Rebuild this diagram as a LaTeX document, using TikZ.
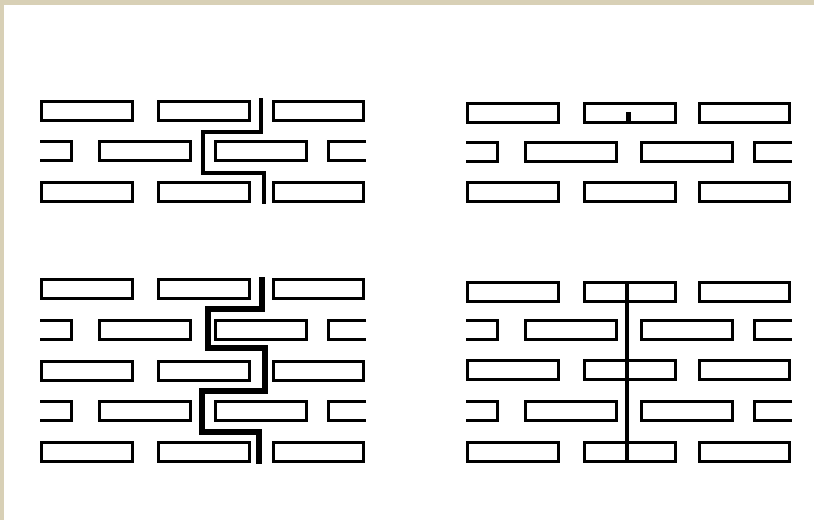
\documentclass[tikz,border=0pt]{standalone}
\usepackage{tikz}
\definecolor{frametan}{HTML}{D8D0B6}

% one row of whole bricks, #1 = panel shift, #2 = top of row
\newcommand{\fullrow}[2]{%
  \foreach \a/\b in {40/134,157/251,272/365}
    \draw[brick] ({#1+\a+1.6},{#2+1.6}) rectangle ({#1+\b-1.6},{#2+20.4});
}
% one row with half bricks at both ends
\newcommand{\halfrow}[2]{%
  \draw[brick] ({#1+40},{#2+1.6}) -- ({#1+71.4},{#2+1.6}) -- ({#1+71.4},{#2+20.4}) -- ({#1+40},{#2+20.4});
  \foreach \a/\b in {98/192,214/308}
    \draw[brick] ({#1+\a+1.6},{#2+1.6}) rectangle ({#1+\b-1.6},{#2+20.4});
  \draw[brick] ({#1+366},{#2+1.6}) -- ({#1+328.6},{#2+1.6}) -- ({#1+328.6},{#2+20.4}) -- ({#1+366},{#2+20.4});
}

\begin{document}
\begin{tikzpicture}[x=1pt, y=-1pt,
  brick/.style={draw=black, line width=3.2pt},
  crack/.style={draw=black, line width=3.6pt, miter limit=10},
  widecrack/.style={draw=black, line width=5.8pt, miter limit=10},
]
\useasboundingbox (0,0) rectangle (814,520);
\fill[white] (0,0) rectangle (814,520);
\fill[frametan] (0,0) rectangle (814,5);
\fill[frametan] (0,0) rectangle (4,520);

% top left: a crack through the joints
\fullrow{0}{100}
\halfrow{0}{140}
\fullrow{0}{181}
\draw[crack] (261,98) -- (261,132) -- (203,132) -- (203,173) -- (264,173) -- (264,204);

% top right: a small crack in one brick
\fullrow{426}{102}
\halfrow{426}{141}
\fullrow{426}{181}
\draw[crack, line width=5pt] (628,112) -- (628,123);

% bottom left: the crack follows the joints
\fullrow{0}{278}
\halfrow{0}{319}
\fullrow{0}{360}
\halfrow{0}{400}
\fullrow{0}{441}
\draw[widecrack] (262,277) -- (262,309) -- (208,309) -- (208,348) -- (265,348)
  -- (265,391) -- (202,391) -- (202,432) -- (259,432) -- (259,464);

% bottom right: the crack runs straight through the bricks
\fullrow{426}{281}
\halfrow{426}{319}
\fullrow{426}{359}
\halfrow{426}{400}
\fullrow{426}{441}
\draw[crack, line width=4.6pt] (627,281) -- (627,463);

\end{tikzpicture}
\end{document}
